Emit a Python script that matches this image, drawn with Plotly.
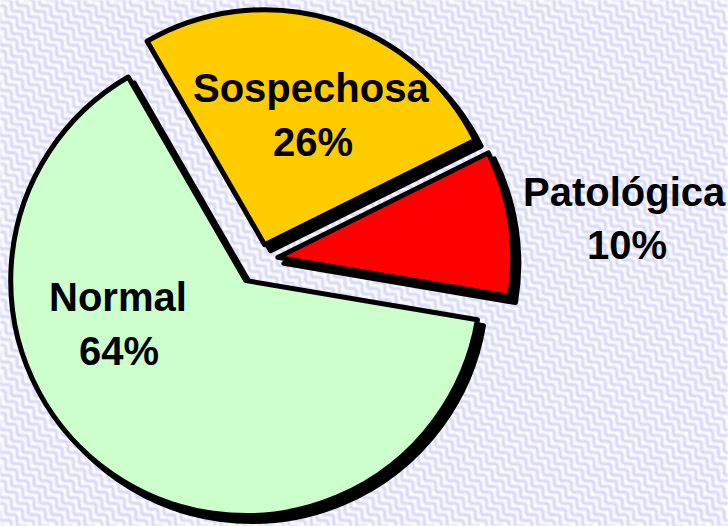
import base64
import plotly.graph_objects as go

# ---- data ----
labels = ["Sospechosa", "Patológica", "Normal"]
values = [26, 10, 64]
colors = ["#FFCC00", "#FF0000", "#CCFFCC"]
pulls = [0.068, 0.0766, 0.1064]

W, H = 728, 526

# background pattern (lavender diagonal zig-zag weave)
svg = f'''<svg xmlns="http://www.w3.org/2000/svg" width="{W}" height="{H}">
<defs>
<filter id="b"><feGaussianBlur stdDeviation="0.9"/></filter>
<pattern id="p" width="16" height="8" patternUnits="userSpaceOnUse" patternTransform="rotate(45)">
<polyline points="0,8 8,0 16,8" fill="none" stroke="#c6c6f6" stroke-width="2.3"/>
</pattern>
</defs>
<rect width="100%" height="100%" fill="#ffffff"/>
<rect width="100%" height="100%" fill="url(#p)" filter="url(#b)"/>
</svg>'''
bg_src = "data:image/svg+xml;base64," + base64.b64encode(svg.encode()).decode()

total = sum(values)
pct = [f"{round(v * 100 / total)}%" for v in values]


def dom(x0, x1, y0, y1):
    # pixel box (from top-left) -> paper domain
    return dict(x=[x0 / W, x1 / W], y=[1 - y1 / H, 1 - y0 / H])


common = dict(
    labels=labels,
    values=values,
    sort=False,
    direction="clockwise",
    rotation=-30,
    pull=pulls,
    textinfo="none",
    hoverinfo="skip",
    showlegend=False,
)

SH = 6  # shadow offset in px
BOX = 520
shadow = go.Pie(
    **common,
    domain=dom(SH, BOX + SH, SH, BOX + SH),
    marker=dict(colors=["#000000"] * len(values), line=dict(color="#000000", width=5)),
)
main = go.Pie(
    **common,
    domain=dom(0, BOX, 0, BOX),
    marker=dict(colors=colors, line=dict(color="#000000", width=5)),
)

fig = go.Figure([shadow, main])

# label positions (pixels) for name line and percent line
label_pos = {
    "Sospechosa": ((311, 88), (313, 142)),
    "Patológica": ((624, 192), (627, 245)),
    "Normal": ((118, 297), (119, 351)),
}
font = dict(family="Arial, Liberation Sans, sans-serif", size=40, color="#000000")
annotations = []
for lab, p in zip(labels, pct):
    (x1, y1), (x2, y2) = label_pos[lab]
    for txt, (x, y) in ((lab, (x1, y1)), (p, (x2, y2))):
        annotations.append(dict(
            text=f"<b>{txt}</b>", x=x / W, y=1 - y / H, xref="paper", yref="paper",
            xanchor="center", yanchor="middle", showarrow=False, font=font,
        ))

fig.update_layout(
    width=W, height=H,
    margin=dict(l=0, r=0, t=0, b=0),
    paper_bgcolor="#ffffff",
    plot_bgcolor="rgba(0,0,0,0)",
    annotations=annotations,
    images=[dict(source=bg_src, xref="paper", yref="paper", x=0, y=1,
                 sizex=1, sizey=1, sizing="stretch", xanchor="left", yanchor="top",
                 layer="below")],
)

fig.write_html(
    "out.html",
    config={"displayModeBar": False},
    post_script="document.body.style.margin='0';document.body.style.overflow='hidden';",
)
